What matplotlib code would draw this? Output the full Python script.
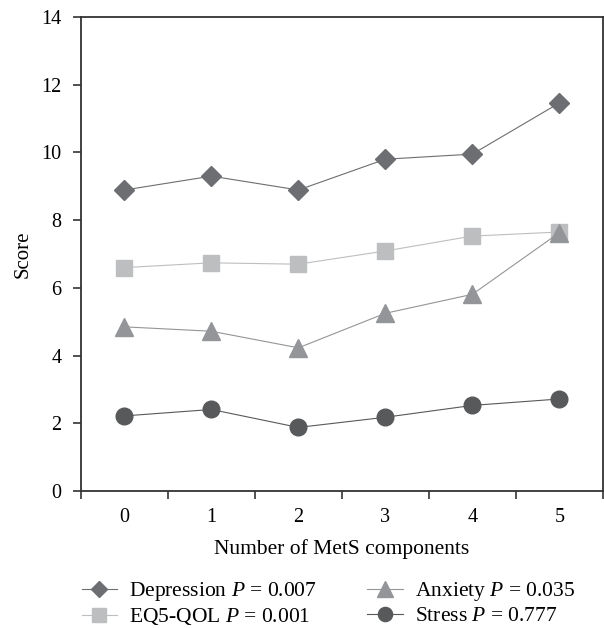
import matplotlib
matplotlib.use('Agg')
import matplotlib.pyplot as plt
import numpy as np

plt.rcParams['font.family'] = ['Liberation Serif', 'DejaVu Serif']
plt.rcParams['mathtext.fontset'] = 'custom'
plt.rcParams['mathtext.rm'] = 'Liberation Serif'
plt.rcParams['mathtext.it'] = 'Liberation Serif:italic'

components = [0, 1, 2, 3, 4, 5]
depression = [8.89, 9.30, 8.89, 9.80, 9.95, 11.46]
eq5_qol = [6.60, 6.74, 6.70, 7.09, 7.53, 7.65]
anxiety = [4.85, 4.72, 4.23, 5.25, 5.81, 7.63]
stress = [2.22, 2.41, 1.88, 2.18, 2.53, 2.72]

labels = ['Depression $P$ = 0.007', 'EQ5-QOL $P$ = 0.001',
          'Anxiety $P$ = 0.035', 'Stress $P$ = 0.777']

fig = plt.figure(figsize=(6.04, 6.28), dpi=100)
ax = fig.add_axes([0.134, 0.218, 0.864, 0.755])

x = np.array(components)
l1, = ax.plot(x, depression, color='#6d6e71', marker='D', markersize=10, lw=0.8)
l2, = ax.plot(x, eq5_qol, color='#bcbec0', marker='s', markersize=11.5, lw=0.8)
l3, = ax.plot(x, anxiety, color='#939598', marker='^', markersize=13, lw=0.8)
l4, = ax.plot(x, stress, color='#58595b', marker='o', markersize=12, lw=0.8)

ax.set_xlim(-0.5, 5.5)
ax.set_ylim(0, 14)
ax.set_yticks([0, 2, 4, 6, 8, 10, 12, 14])
ax.set_xticks(np.arange(-0.5, 6, 1))
ax.set_xticklabels([])
ax.set_xticks(x, minor=True)
ax.set_xticklabels([str(c) for c in components], minor=True)
ax.tick_params(axis='x', which='minor', length=0, pad=12, labelsize=14.5)
ax.tick_params(axis='x', which='major', length=6, width=1.2, color='#333333')
ax.tick_params(axis='y', length=6, width=1.2, color='#333333', labelsize=14.5, pad=8)
for s in ax.spines.values():
    s.set_color('#333333')
    s.set_linewidth(1.3)

ax.set_xlabel('Number of MetS components', fontsize=15.5, labelpad=9)
ax.set_ylabel('Score', fontsize=15, labelpad=6)

fig.legend([l1, l2, l3, l4], labels, ncol=2, frameon=False, fontsize=15.5,
           loc='lower left', bbox_to_anchor=(0.11, -0.023), handlelength=1.65,
           columnspacing=2.35, handletextpad=0.55, labelspacing=0.15,
           markerscale=0.85, borderpad=0.2)

fig.savefig('out.png', dpi=100)
